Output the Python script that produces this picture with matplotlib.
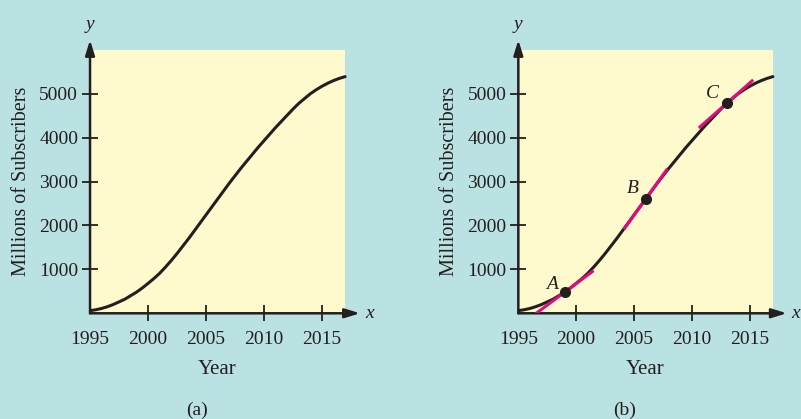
import numpy as np
import matplotlib.pyplot as plt
from matplotlib.patches import Rectangle

# data (every half year)
years = [1995, 1995.5, 1996, 1996.5, 1997, 1997.5, 1998, 1998.5, 1999, 1999.5,
         2000, 2000.5, 2001, 2001.5, 2002, 2002.5, 2003, 2003.5, 2004, 2004.5,
         2005, 2005.5, 2006, 2006.5, 2007, 2007.5, 2008, 2008.5, 2009, 2009.5,
         2010, 2010.5, 2011, 2011.5, 2012, 2012.5, 2013, 2013.5, 2014, 2014.5,
         2015, 2015.5, 2016, 2016.5, 2017]
subscribers = [60, 80, 110, 150, 200, 260, 320, 400, 480, 575,
               680, 790, 910, 1050, 1200, 1360, 1530, 1700, 1880, 2060,
               2240, 2420, 2600, 2780, 2960, 3130, 3300, 3460, 3620, 3780,
               3930, 4080, 4230, 4370, 4510, 4650, 4780, 4890, 5000, 5090,
               5170, 5240, 5300, 5350, 5390]

x_ticks = [1995, 2000, 2005, 2010, 2015]
y_ticks = [1000, 2000, 3000, 4000, 5000]

point_labels = ['A', 'B', 'C']
point_years = [1999, 2006, 2013]
point_vals = [480, 2600, 4780]
tangent_slopes = [196, 367, 233]
tangent_start = [1996.6, 2004.2, 2010.7]
tangent_end = [2001.4, 2007.8, 2015.2]
label_offsets = [(-9, 5.5), (-9, 8), (-10, 7)]

bg = '#BBE2E2'
yellow = '#FFFACD'
ink = '#231F20'
magenta = '#E5097F'

plt.rcParams['font.family'] = ['Liberation Serif', 'DejaVu Serif']

fig = plt.figure(figsize=(8.01, 4.19), dpi=100)
fig.patch.set_facecolor(bg)


def draw_panel(ax, xmax, ymax):
    ax.set_facecolor('none')
    ax.set_xlim(1995, xmax)
    ax.set_ylim(0, ymax)
    ax.add_patch(Rectangle((1995, 0), 22, 6000, facecolor=yellow,
                           edgecolor='none', zorder=0))
    for s in ax.spines.values():
        s.set_visible(False)
    arrow = dict(arrowstyle='-|>,head_length=0.9,head_width=0.28', lw=1.8,
                 color=ink, shrinkA=0, shrinkB=0)
    ax.annotate('', xy=(xmax, 0), xytext=(1995, 0), arrowprops=arrow,
                annotation_clip=False)
    ax.annotate('', xy=(1995, ymax), xytext=(1995, 0), arrowprops=arrow,
                annotation_clip=False)
    ax.plot(years, subscribers, color=ink, lw=2.2, solid_capstyle='round',
            solid_joinstyle='round', zorder=3)
    ax.set_xticks(x_ticks)
    ax.set_yticks(y_ticks)
    ax.tick_params(direction='inout', length=11, width=1.3, color=ink,
                   labelcolor=ink, labelsize=14)
    ax.tick_params(axis='x', pad=7)
    ax.tick_params(axis='y', pad=3)
    ax.xaxis.get_major_ticks()[0].tick1line.set_visible(False)
    ax.set_xlabel('Year', fontsize=15, color=ink, labelpad=9,
                  x=11 / (xmax - 1995))
    ax.set_ylabel('Millions of Subscribers', fontsize=14.5, color=ink,
                  labelpad=6, y=3000 / ymax)
    ax.text(1995, ymax + 150, 'y', style='italic', fontsize=14, color=ink,
            ha='center', va='bottom', clip_on=False)
    ax.text(xmax + 0.8, 0, 'x', style='italic', fontsize=14, color=ink,
            ha='center', va='center', clip_on=False)


ax1 = fig.add_axes([0.1124, 0.2523, 0.337, 0.6523])
draw_panel(ax1, 2018.28, 6225)

ax2 = fig.add_axes([0.6471, 0.2523, 0.3351, 0.6523])
draw_panel(ax2, 2018.2, 6225)

for lab, px, py, m, x0, x1, off in zip(point_labels, point_years, point_vals,
                                       tangent_slopes, tangent_start,
                                       tangent_end, label_offsets):
    xs = np.array([x0, x1])
    ax2.plot(xs, py + m * (xs - px), color=magenta, lw=2.2, zorder=4)
    ax2.plot(px, py, 'o', color=ink, ms=7, zorder=5)
    ax2.annotate(lab, (px, py), xytext=off, textcoords='offset points',
                 style='italic', fontsize=14, color=ink, ha='center',
                 va='center')

fig.text(197 / 801, 1 - 410 / 419, '(a)', fontsize=14, color=ink,
         ha='center', va='center')
fig.text(625 / 801, 1 - 410 / 419, '(b)', fontsize=14, color=ink,
         ha='center', va='center')

fig.savefig('out.png', dpi=100, facecolor=bg)
